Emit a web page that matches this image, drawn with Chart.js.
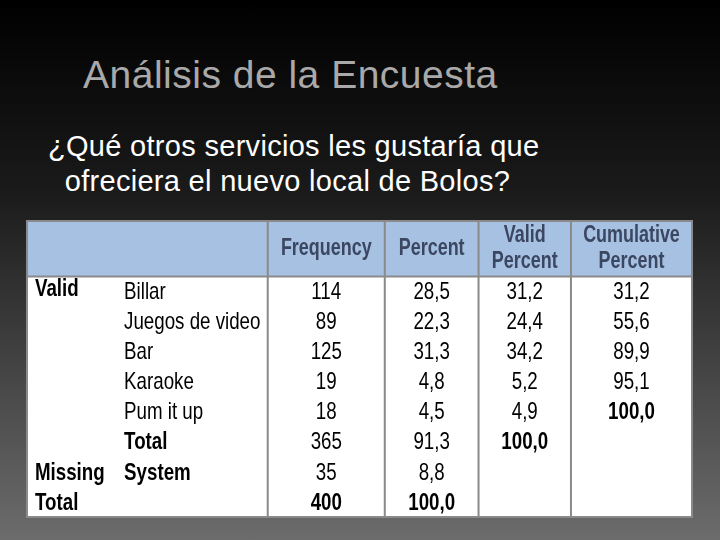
<!DOCTYPE html>
<html><head><meta charset="utf-8">
<script src="https://cdn.jsdelivr.net/npm/chart.js@4/dist/chart.umd.min.js"></script>
<style>
html,body{margin:0;padding:0;width:720px;height:540px;overflow:hidden;background:linear-gradient(#000 0%,#1a1a1a 35%,#6c6c6c 100%);font-family:'Liberation Sans',Arial,sans-serif}
#t{position:absolute;left:83px;top:53px;font-size:39px;color:#a9a9a9;white-space:nowrap;letter-spacing:0.5px}
#s{position:absolute;left:48px;top:129px;font-size:29px;color:#fff;line-height:35px;white-space:nowrap;letter-spacing:0.3px}
#c{position:absolute;left:0;top:0}
</style></head><body>
<div id="t">Análisis de la Encuesta</div>
<div id="s">¿Qué otros servicios les gustaría que<br>&nbsp;&nbsp;ofreciera el nuevo local de Bolos?</div>
<canvas id="c" width="720" height="540"></canvas>
<script>
const headers = ["Frequency","Percent","Valid\nPercent","Cumulative\nPercent"];
const groupLabels = ["Valid","","","","","","Missing","Total"];
const rowLabels = ["Billar","Juegos de video","Bar","Karaoke","Pum it up","Total","System",""];
const frequency = ["114","89","125","19","18","365","35","400"];
const percent = ["28,5","22,3","31,3","4,8","4,5","91,3","8,8","100,0"];
const validPercent = ["31,2","24,4","34,2","5,2","4,9","100,0","",""];
const cumulativePercent = ["31,2","55,6","89,9","95,1","100,0","","",""];
const boldCells = {group:[0,6,7],label:[5,6],frequency:[7],percent:[7],validPercent:[5],cumulativePercent:[4]};
const colEdges = [0,14,36.2,53.8,67.9,81.8,100];
const HEAD = 1.85;
const FONT = "'Liberation Sans',Arial,sans-serif";
const SX = 0.78;

const tablePlugin = {id:'tbl', beforeDatasetsDraw(chart){
  const ctx=chart.ctx, x=chart.scales.x, y=chart.scales.y;
  const X=v=>x.getPixelForValue(v), Y=v=>y.getPixelForValue(v);
  const L=X(0),R=X(100),T=Y(0),B=Y(HEAD+8);
  const txt=(s,px,py,align)=>{ctx.save();ctx.translate(px,py);ctx.scale(SX,1);ctx.textAlign=align;ctx.fillText(s,0,0);ctx.restore();};
  ctx.save();
  ctx.fillStyle='#fff';ctx.fillRect(L,T,R-L,B-T);
  ctx.fillStyle='#a7c1e3';ctx.fillRect(L,T,R-L,Y(HEAD)-T);
  ctx.strokeStyle='#8a8a8a';ctx.lineWidth=2;
  ctx.strokeRect(L,T,R-L,B-T);
  ctx.beginPath();ctx.moveTo(L,Y(HEAD));ctx.lineTo(R,Y(HEAD));
  for(let i=2;i<colEdges.length-1;i++){ctx.moveTo(X(colEdges[i]),T);ctx.lineTo(X(colEdges[i]),B);}
  ctx.stroke();
  ctx.textBaseline='middle';
  ctx.fillStyle='#3b4660';ctx.font='bold 23px '+FONT;
  headers.forEach((h,i)=>{const cx=(X(colEdges[i+2])+X(colEdges[i+3]))/2;const ls=h.split('\n');
    ls.forEach((l,k)=>txt(l,cx,Y(HEAD/2)+(k-(ls.length-1)/2)*26,'center'));});
  ctx.fillStyle='#000';
  const f=b=>(b?'bold ':'')+'24px '+FONT;
  for(let r=0;r<8;r++){const cy=Y(HEAD+r+0.5)+1;
    ctx.font=f(boldCells.group.includes(r));txt(groupLabels[r],X(colEdges[0])+8,cy-(r==0?3:0),'left');
    ctx.font=f(boldCells.label.includes(r));txt(rowLabels[r],X(colEdges[1])+4,cy,'left');
    [[frequency,'frequency'],[percent,'percent'],[validPercent,'validPercent'],[cumulativePercent,'cumulativePercent']].forEach(([arr,k],i)=>{
      ctx.font=f(boldCells[k].includes(r));txt(arr[r],(X(colEdges[i+2])+X(colEdges[i+3]))/2,cy,'center');});
  }
  ctx.restore();
}};

new Chart(document.getElementById('c'),{type:'scatter',data:{datasets:[{data:[]}]},
 options:{responsive:false,animation:false,layout:{padding:{left:27,right:28,top:221,bottom:23}},
  plugins:{legend:{display:false},tooltip:{enabled:false}},
  scales:{x:{type:'linear',min:0,max:100,display:false},y:{type:'linear',min:0,max:HEAD+8,reverse:true,display:false}}},
 plugins:[tablePlugin]});
</script></body></html>
